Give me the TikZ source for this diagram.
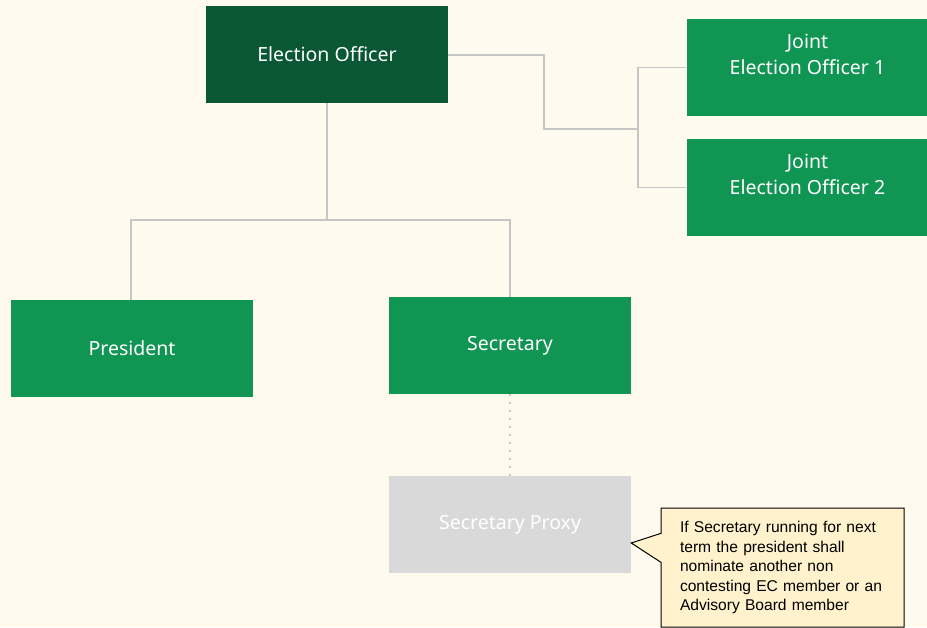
\documentclass[tikz,border=0pt]{standalone}
\usepackage{fontspec}
\setmainfont{Noto Sans}
\newfontfamily\notefont{Liberation Sans}
\usetikzlibrary{shapes.callouts}
\definecolor{bgcream}{HTML}{FFFAEE}
\definecolor{darkgreen}{HTML}{0A5733}
\definecolor{midgreen}{HTML}{109553}
\definecolor{proxygrey}{HTML}{D9D9D9}
\definecolor{linkgrey}{HTML}{C6C6C6}
\definecolor{notefill}{HTML}{FFF2CC}
\tikzset{
  post/.style={rectangle, fill=midgreen, text=white, minimum width=242pt,
    minimum height=97pt, inner sep=0pt, align=center,
    font=\fontsize{19.5}{26}\selectfont},
  head/.style={post, fill=darkgreen},
  proxy/.style={post, fill=proxygrey, text=white},
  link/.style={draw=linkgrey, line width=1.6pt},
  note/.style={rectangle callout, draw=black, line width=1pt, fill=notefill,
    minimum width=243pt, minimum height=119pt, text width=205pt,
    align=left, inner sep=0pt, callout pointer width=29pt,
    font=\notefont\fontsize{15.6}{19.5}\selectfont}
}
\begin{document}
\begin{tikzpicture}[x=1pt,y=-1pt]
      \fill[bgcream] (0,0) rectangle (927,627);
      \useasboundingbox (0,0) rectangle (927,627);
      \node[head] (eo) at (327,54.5) {Election Officer};
      \node[post] (jeo1) at (807.5,67.5) {Joint\\Election Officer 1\\\mbox{}};
      \node[post] (jeo2) at (807.5,187.5) {Joint\\Election Officer 2\\\mbox{}};
      \node[post] (pres) at (132,348.5) {President};
      \node[post] (sec) at (510,345.5) {Secretary};
      \node[proxy] (proxy) at (510,524.5) {Secretary Proxy};
      \node[note, callout absolute pointer={(proxy.east |- 0,543)}] (remark)
        at (782.5,567.5) {If Secretary running for next\\term the president shall\\nominate another non\\contesting EC member or an\\Advisory Board member};
      \coordinate (split) at (327,220);
      \coordinate (fork) at (638,129);
      \begin{scope}[link]
        \draw (eo.east |- 0,55) -| (544,129) -- (fork);
        \draw (jeo1.west) -| (fork) |- (jeo2.west);
        \draw (eo.south) -- (split);
        \draw (split) -| (pres.north -| 131,0);
        \draw (split) -| (sec.north);
      \end{scope}
      \draw[linkgrey, line width=2pt, dash pattern=on 2pt off 6pt] (sec.south) -- (proxy.north);
    \end{tikzpicture}
\end{document}
